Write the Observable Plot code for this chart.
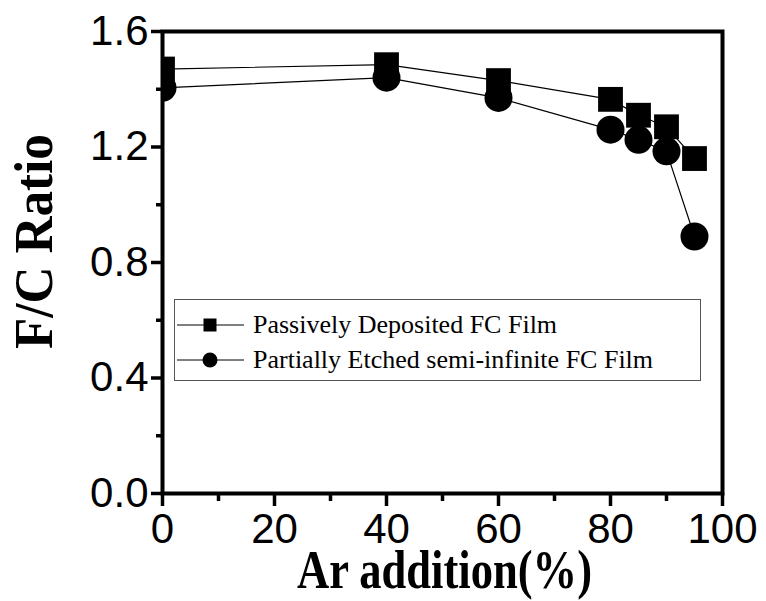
<!DOCTYPE html>
<html><head><meta charset="utf-8">
<script src="https://cdn.jsdelivr.net/npm/d3@7"></script>
<script src="https://cdn.jsdelivr.net/npm/@observablehq/plot@0.6"></script>
<style>
body{margin:0;background:#fff;}
#wrap{position:relative;width:766px;height:601px;}
#legend{position:absolute;left:0;top:0;pointer-events:none;}
</style></head><body><div id="wrap"></div>
<script>
const arAddition = [0, 40, 60, 80, 85, 90, 95];
const passive = [1.47, 1.485, 1.43, 1.365, 1.31, 1.27, 1.16];
const etched = [1.405, 1.44, 1.37, 1.26, 1.225, 1.185, 0.89];
const seriesNames = ["Passively Deposited FC Film", "Partially Etched semi-infinite FC Film"];
const seriesSymbols = ["square", "circle"];
const xTicks = [0, 20, 40, 60, 80, 100];
const xMinor = [10, 30, 50, 70, 90];
const yTicks = [0, 0.4, 0.8, 1.2, 1.6];
const yMinor = [0.2, 0.6, 1.0, 1.4];
const xTitle = "Ar addition(%)";
const yTitle = "F/C Ratio";

const rows = arAddition.map((x, i) => ({x, passive: passive[i], etched: etched[i]}));

const chart = Plot.plot({
  width: 766, height: 601,
  marginLeft: 162, marginRight: 44, marginTop: 31, marginBottom: 108,
  style: {fontFamily: "Liberation Sans, Arial, sans-serif", color: "black", background: "white"},
  x: {domain: [0, 100]},
  y: {domain: [0, 1.6]},
  marks: [
    Plot.line(rows, {x: "x", y: "passive", stroke: "black", strokeWidth: 1.2, clip: true}),
    Plot.line(rows, {x: "x", y: "etched", stroke: "black", strokeWidth: 1.2, clip: true}),
    Plot.dot(rows, {x: "x", y: "passive", symbol: "square", r: 14, fill: "black", stroke: "none", clip: true}),
    Plot.dot(rows, {x: "x", y: "etched", symbol: "circle", r: 14, fill: "black", stroke: "none", clip: true}),
    Plot.frame({stroke: "black", strokeWidth: 4}),
    Plot.axisX({ticks: xTicks, tickSize: 13, tickPadding: 7, fontSize: 42, strokeWidth: 3.5, label: null, tickFormat: d => String(d)}),
    Plot.axisX({ticks: xMinor, tickSize: 8, strokeWidth: 3.5, label: null, tickFormat: () => ""}),
    Plot.axisY({ticks: yTicks, tickSize: 11, tickPadding: 3, fontSize: 42, strokeWidth: 3.5, label: null, tickFormat: d => d.toFixed(1)}),
    Plot.axisY({ticks: yMinor, tickSize: 6, strokeWidth: 3.5, label: null, tickFormat: () => ""}),
    Plot.text([xTitle], {frameAnchor: "bottom", textAnchor: "middle", lineAnchor: "middle", dx: 2, dy: 77, fontSize: 54, fontWeight: "bold", fontFamily: "Liberation Serif, serif", fill: "black"}),
    Plot.text([yTitle], {frameAnchor: "left", textAnchor: "middle", lineAnchor: "middle", rotate: -90, dx: -128, dy: -21, fontSize: 54, fontWeight: "bold", fontFamily: "Liberation Serif, serif", fill: "black"})
  ]
});
// condense the bold titles like the reference typeface
d3.select(chart).selectAll("text").filter(function() { return this.textContent === xTitle; })
  .attr("textLength", 295).attr("lengthAdjust", "spacingAndGlyphs");
d3.select(chart).selectAll("text").filter(function() { return this.textContent === yTitle; })
  .attr("textLength", 215).attr("lengthAdjust", "spacingAndGlyphs");

const wrap = document.getElementById("wrap");
wrap.appendChild(chart);

// legend (SVG overlay)
const leg = d3.select(wrap).append("svg").attr("id", "legend").attr("width", 766).attr("height", 601);
leg.append("rect").attr("x", 174.5).attr("y", 299.5).attr("width", 526).attr("height", 81)
  .attr("fill", "white").attr("stroke", "#555").attr("stroke-width", 1);
seriesNames.forEach((name, i) => {
  const cy = 325 + i * 35;
  leg.append("line").attr("x1", 177).attr("x2", 244).attr("y1", cy).attr("y2", cy).attr("stroke", "black").attr("stroke-width", 1);
  if (seriesSymbols[i] === "square") {
    leg.append("rect").attr("x", 210 - 6.5).attr("y", cy - 6.5).attr("width", 13).attr("height", 13).attr("fill", "black");
  } else {
    leg.append("circle").attr("cx", 210).attr("cy", cy).attr("r", 7.5).attr("fill", "black");
  }
  leg.append("text").attr("x", 253).attr("y", cy + 8).attr("font-family", "Liberation Serif, serif").attr("font-size", 26)
    .attr("fill", "black").text(name);
});
</script></body></html>
